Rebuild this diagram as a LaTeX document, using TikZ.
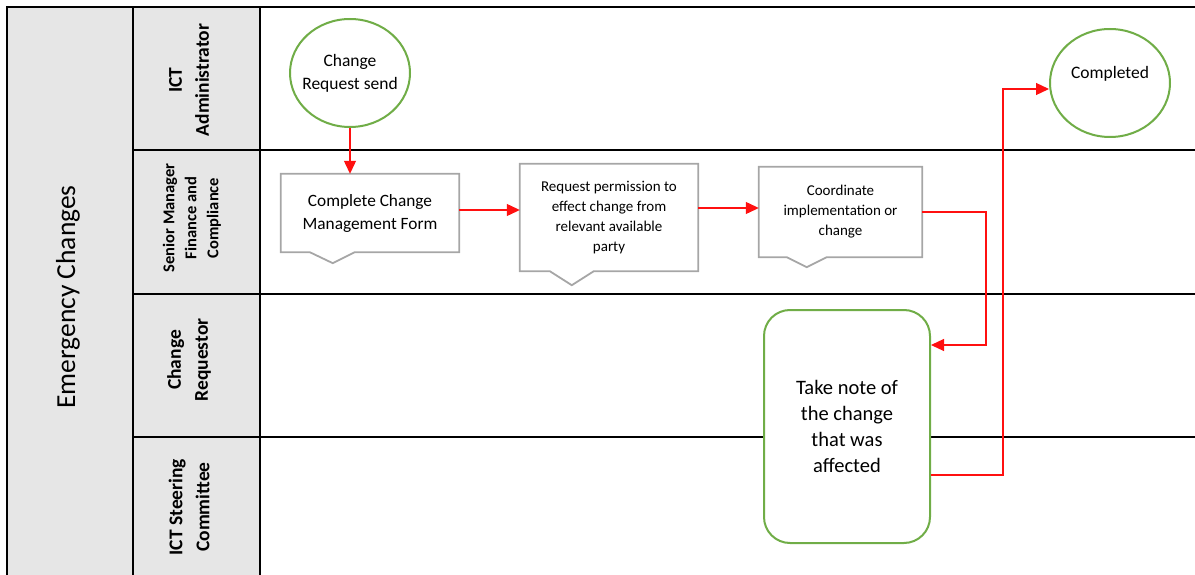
\documentclass[tikz,border=0pt]{standalone}
\usepackage{fontspec}
\setmainfont{Carlito}
\usetikzlibrary{arrows.meta,shapes.geometric,calc}
\definecolor{lanegray}{HTML}{E6E6E6}
\definecolor{boxgray}{HTML}{A6A6A6}
\definecolor{flowgreen}{HTML}{70AD47}
\definecolor{flowred}{HTML}{FF1010}
\begin{document}
\begin{tikzpicture}[x=1pt,y=-1pt,
  frame/.style={line width=2pt, draw=black},
  lanelabel/.style={rotate=90, align=center, inner sep=0, font=\bfseries\fontsize{19.5}{27}\selectfont},
  stepbox/.style={rectangle, fill=white, draw=none, inner sep=0, align=center},
  boxline/.style={draw=boxgray, line width=1.8pt, line join=miter},
  event/.style={ellipse, draw=flowgreen, line width=2pt, fill=white, minimum width=120pt, minimum height=108pt, inner sep=0},
  flow/.style={draw=flowred, line width=1.2pt, -{Triangle[length=13pt,width=12pt]}},
]
\useasboundingbox (0,0) rectangle (1195,575);
% lanes
\fill[lanegray] (7,7) rectangle (260,575);
\draw[frame] (7,575) -- (7,7) -- (1195,7);
\draw[frame] (133,7) -- (133,575);
\draw[frame] (260,7) -- (260,575);
\draw[frame] (133,150) -- (1195,150);
\draw[frame] (133,294) -- (1195,294);
\draw[frame] (133,437) -- (1195,437);
% headings
\node[rotate=90, inner sep=0, font=\fontsize{27.5}{32}\selectfont] (head) at (68,297) {Emergency Changes};
\node[lanelabel] (l1) at (189,80) {ICT\\Administrator};
\node[lanelabel, font=\bfseries\fontsize{16.5}{22}\selectfont] (l2) at (192,218) {Senior Manager\\Finance and\\Compliance};
\node[lanelabel] (l3) at (189,360) {Change\\Requestor};
\node[lanelabel] (l4) at (189,507) {ICT Steering\\Committee};
% events
\node[event, label={[align=center, font=\fontsize{17.5}{23}\selectfont]center:Change\\Request send}] (c1) at (350,73) {};
\node[event, label={[font=\fontsize{17.5}{23}\selectfont, yshift=9pt]center:Completed}] (cp) at (1110,83) {};
% step boxes
\node[stepbox, minimum width=178pt, minimum height=78pt, font=\fontsize{17.3}{23}\selectfont] (b1) at (370,213) {Complete Change\\Management Form};
\draw[boxline] (b1.south west) -- (b1.north west) -- (b1.north east) -- (b1.south east) -- ($(b1.south west)+(74,0)$) -- ($(b1.south west)+(52,11)$) -- ($(b1.south west)+(29,0)$) -- cycle;
\node[stepbox, minimum width=178pt, minimum height=107pt, font=\fontsize{15}{20}\selectfont] (b2) at (609,217.5) {Request permission to\\effect change from\\relevant available\\party};
\draw[boxline] (b2.south west) -- (b2.north west) -- (b2.north east) -- (b2.south east) -- ($(b2.south west)+(74,0)$) -- ($(b2.south west)+(52,14)$) -- ($(b2.south west)+(30,0)$) -- cycle;
\node[stepbox, minimum width=163pt, minimum height=90pt, font=\fontsize{15}{20}\selectfont] (b3) at (840.5,212) {Coordinate\\implementation or\\change};
\draw[boxline] (b3.south west) -- (b3.north west) -- (b3.north east) -- (b3.south east) -- ($(b3.south west)+(68,0)$) -- ($(b3.south west)+(48,10)$) -- ($(b3.south west)+(28,0)$) -- cycle;
\node[rectangle, rounded corners=26pt, draw=flowgreen, line width=2pt, fill=white, minimum width=166pt, minimum height=233pt, inner sep=0, align=center, font=\fontsize{20.5}{26}\selectfont] (g) at (847,426.5) {Take note of\\the change\\that was\\affected};
% connectors
\draw[flow] (c1.south) -- (c1.south |- b1.north);
\coordinate (a12) at ([yshift=3pt]b1.east);
\draw[flow] (a12) -- (a12 -| b2.west);
\coordinate (a23) at ([yshift=9.5pt]b2.east);
\draw[flow] (a23) -- (a23 -| b3.west);
\coordinate (j1) at ($(g.east)+(55,-81.5)$);
\draw[flow] (b3.east) -| (j1) -- (j1 -| g.east);
\coordinate (gout) at ($(g.east)+(0,48.5)$);
\coordinate (j2) at (1003,89);
\draw[flow] (gout) -| (j2) -- (j2 -| cp.west);
\end{tikzpicture}
\end{document}
